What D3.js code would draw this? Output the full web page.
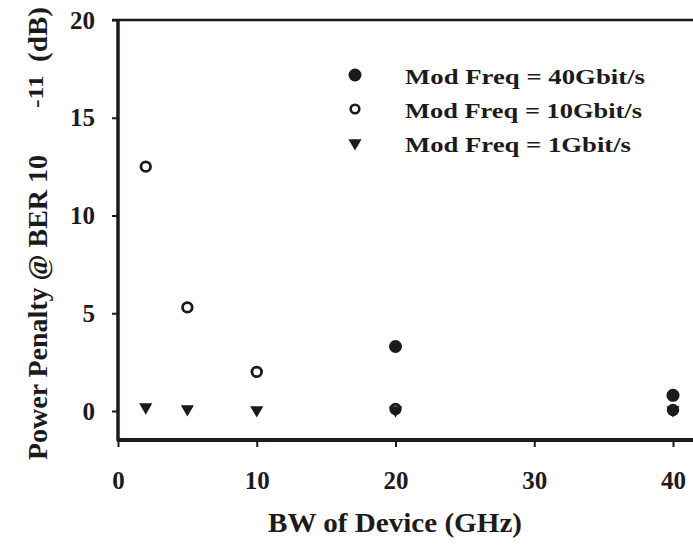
<!DOCTYPE html>
<html>
<head>
<meta charset="utf-8">
<script src="https://cdn.jsdelivr.net/npm/d3@7"></script>
<style>
  body { margin: 0; background: #fff; }
  svg text { font-family: "Liberation Serif", "Times New Roman", "DejaVu Serif", serif; font-weight: bold; }
</style>
</head>
<body>
<svg id="chart" width="693" height="546"></svg>
<script>
// x positions (GHz) and penalties (dB)
const bw40 = [20, 40];
const pen40 = [3.3, 0.8];
const bw10 = [2, 5, 10, 20, 40];
const pen10 = [12.5, 5.3, 2.0, 0.1, 0.05];
const bw1 = [2, 5, 10, 20, 40];
const pen1 = [0.15, 0.05, 0, 0, 0];
const xTicks = [0, 10, 20, 30, 40];
const yTicks = [0, 5, 10, 15, 20];
const legendLabels = ["Mod Freq = 40Gbit/s", "Mod Freq = 10Gbit/s", "Mod Freq = 1Gbit/s"];

const svg = d3.select('#chart');
const x = d3.scaleLinear().domain([0, 40]).range([118, 673]);
const y = d3.scaleLinear().domain([0, 20]).range([411, 20]);
const ink = "#1c1a1b";

// y axis
svg.append('g')
  .attr('transform', 'translate(118,0)')
  .call(d3.axisLeft(y).tickValues(yTicks).tickSize(6).tickPadding(17))
  .call(g => g.select('.domain').remove())
  .call(g => g.attr('font-family', null).attr('font-size', null))
  .call(g => g.selectAll('line').attr('stroke', ink).attr('stroke-width', 2))
  .call(g => g.selectAll('text').attr('font-size', 25).attr('fill', ink));

// x axis
svg.append('g')
  .attr('transform', 'translate(0,440)')
  .call(d3.axisBottom(x).tickValues(xTicks).tickSize(7).tickPadding(24))
  .call(g => g.select('.domain').remove())
  .call(g => g.attr('font-family', null).attr('font-size', null))
  .call(g => g.selectAll('line').attr('stroke', ink).attr('stroke-width', 2))
  .call(g => g.selectAll('text').attr('font-size', 25).attr('fill', ink));

// frame lines
svg.append('line').attr('x1', 118).attr('x2', 118).attr('y1', 19).attr('y2', 441)
  .attr('stroke', ink).attr('stroke-width', 3.5);
svg.append('line').attr('x1', 117).attr('x2', 693).attr('y1', 440).attr('y2', 440)
  .attr('stroke', ink).attr('stroke-width', 4);
svg.append('line').attr('x1', 112).attr('x2', 693).attr('y1', 20).attr('y2', 20)
  .attr('stroke', ink).attr('stroke-width', 2.5);

const tri = d3.symbol().type(d3.symbolTriangle).size(75);

function drawTri(sel, px, py) {
  sel.append('path').attr('d', tri)
    .attr('transform', `translate(${px},${py}) rotate(180)`)
    .attr('fill', ink);
}

// 1 Gbit/s triangles
bw1.forEach((d, i) => drawTri(svg, x(d), y(pen1[i]) - 1));

// 10 Gbit/s open circles
svg.selectAll('.c10').data(bw10).enter().append('circle')
  .attr('class', 'c10')
  .attr('cx', d => x(d))
  .attr('cy', (d, i) => y(pen10[i]))
  .attr('r', 4.8)
  .attr('fill', 'none')
  .attr('stroke', ink)
  .attr('stroke-width', 2.8);

// 40 Gbit/s filled circles
svg.selectAll('.c40').data(bw40).enter().append('circle')
  .attr('class', 'c40')
  .attr('cx', d => x(d))
  .attr('cy', (d, i) => y(pen40[i]))
  .attr('r', 6.5)
  .attr('fill', ink);

// legend (the source face is a wide garamond, so the text is stretched to its width)
const legY = [75, 109, 143];
const legW = [240, 237, 226];
svg.append('circle').attr('cx', 355).attr('cy', legY[0]).attr('r', 6.5).attr('fill', ink);
svg.append('circle').attr('cx', 355).attr('cy', legY[1]).attr('r', 4.3).attr('fill', 'none')
  .attr('stroke', ink).attr('stroke-width', 2.6);
drawTri(svg, 355, legY[2]);
svg.selectAll('.leg').data(legendLabels).enter().append('text')
  .attr('class', 'leg')
  .attr('x', 405)
  .attr('y', (d, i) => legY[i] + 9)
  .attr('font-size', 22)
  .attr('textLength', (d, i) => legW[i])
  .attr('lengthAdjust', 'spacingAndGlyphs')
  .attr('fill', ink)
  .text(d => d);

// axis titles
svg.append('text')
  .attr('x', 395).attr('y', 532)
  .attr('text-anchor', 'middle')
  .attr('font-size', 28)
  .attr('fill', ink)
  .attr('textLength', 254)
  .attr('lengthAdjust', 'spacingAndGlyphs')
  .text('BW of Device (GHz)');

// y title is split in three pieces, the exponent sits apart as in the figure
const yTitle = svg.append('g').attr('transform', 'translate(47,0) rotate(-90)');
yTitle.append('text')
  .attr('x', -460).attr('y', 0)
  .attr('font-size', 27)
  .attr('fill', ink)
  .attr('textLength', 305)
  .attr('lengthAdjust', 'spacingAndGlyphs')
  .text('Power Penalty @ BER 10');
yTitle.append('text')
  .attr('x', -108).attr('y', -4)
  .attr('font-size', 22)
  .attr('fill', ink)
  .attr('textLength', 33)
  .attr('lengthAdjust', 'spacingAndGlyphs')
  .text('-11');
yTitle.append('text')
  .attr('x', -62).attr('y', 0)
  .attr('font-size', 27)
  .attr('fill', ink)
  .attr('textLength', 55)
  .attr('lengthAdjust', 'spacingAndGlyphs')
  .text('(dB)');
</script>
</body>
</html>
